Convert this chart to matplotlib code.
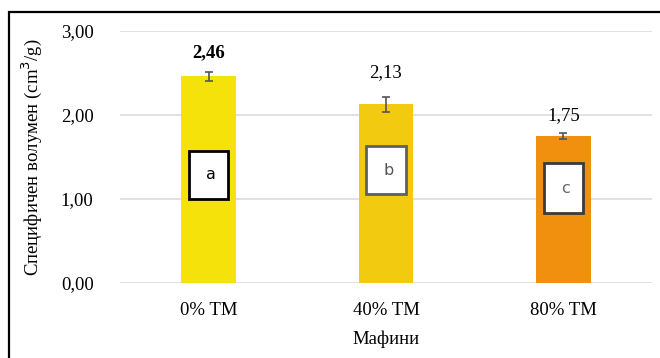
import matplotlib
matplotlib.use('Agg')
import matplotlib.pyplot as plt
from matplotlib.patches import Rectangle

plt.rcParams['font.family'] = ['Liberation Serif', 'DejaVu Serif']

# Specific volume of muffins by TM share
categories = ["0% TM", "40% TM", "80% TM"]
volumes    = [2.46, 2.13, 1.75]
errors     = [0.05, 0.09, 0.03]
labels     = ["2,46", "2,13", "1,75"]
bold_label = [True, False, False]
bar_colors = ["#F5E20A", "#F2CB10", "#F18F0E"]

# significance letters and their boxes (y range in data units)
letters     = ["a", "b", "c"]
box_bottoms = [1.00, 1.06, 0.83]
box_tops    = [1.575, 1.63, 1.43]
box_edges   = ["#000000", "#606060", "#3a3a3a"]
letter_cols = ["#000000", "#555555", "#666666"]

fs = 13.5

fig = plt.figure(figsize=(6.6, 3.58), dpi=100)
ax = fig.add_axes([120/660, 1 - 283/358, 532/660, 252/358])

x = list(range(len(categories)))
ax.bar(x, volumes, width=0.31, color=bar_colors, zorder=3)
ax.errorbar(x, volumes, yerr=errors, fmt="none", ecolor="#555555",
            elinewidth=1.2, capsize=3, capthick=1.2, zorder=4)

label_y = [2.74, 2.50, 1.99]
for xi, txt, ly, b in zip(x, labels, label_y, bold_label):
    ax.text(xi, ly, txt, ha="center", va="center", fontsize=fs,
            fontweight="bold" if b else "normal", zorder=5)

bw = 0.22
for xi, lt, lo, hi, ec, lc in zip(x, letters, box_bottoms, box_tops,
                                  box_edges, letter_cols):
    ax.add_patch(Rectangle((xi - bw/2, lo), bw, hi - lo, facecolor="white",
                           edgecolor=ec, linewidth=2, zorder=5))
    ax.text(xi + 0.015, (lo + hi)/2, lt, ha="center", va="center",
            fontsize=11.5, family="DejaVu Sans", color=lc, zorder=6)

ax.set_xlim(-0.5, 2.5)
ax.set_ylim(0, 3)
ax.set_yticks([0, 1, 2, 3])
ax.set_yticklabels(["0,00", "1,00", "2,00", "3,00"], fontsize=fs)
ax.set_xticks(x)
ax.set_xticklabels(categories, fontsize=fs)
ax.tick_params(axis="both", length=0)
ax.tick_params(axis="y", pad=19)
ax.tick_params(axis="x", pad=14)
ax.grid(True, axis="y", color="#dcdcdc", linewidth=1.2, zorder=0)
for s in ax.spines.values():
    s.set_visible(False)

ax.set_ylabel("Специфичен волумен (cm$^3$/g)", fontsize=fs, labelpad=12)
ax.set_xlabel("Мафини", fontsize=fs, labelpad=8)

# outer frame
fig.add_artist(Rectangle((8.5/660, -0.1), 1.2, 1 - 11.5/358 + 0.1,
                         transform=fig.transFigure, fill=False,
                         edgecolor="black", linewidth=1.6))

fig.savefig("out.png", dpi=100)
